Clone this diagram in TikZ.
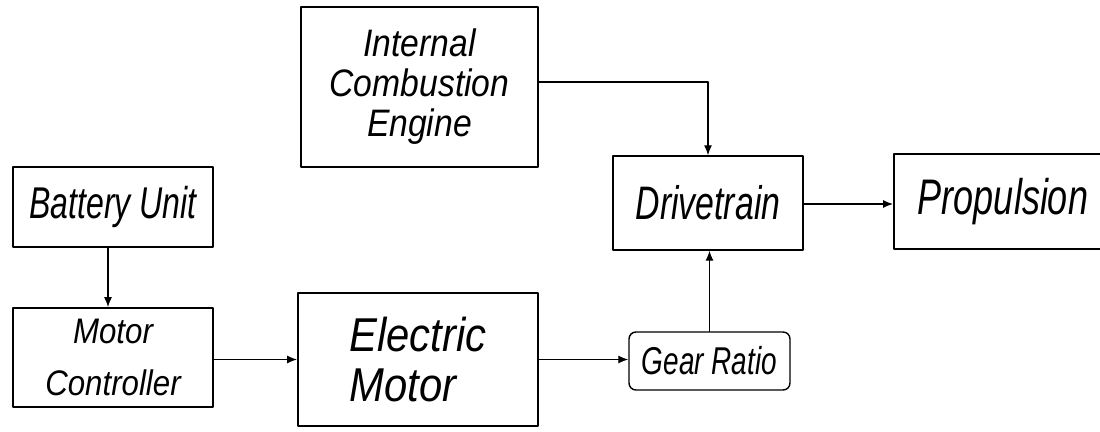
\documentclass[tikz,border=0pt]{standalone}
\usepackage{fontspec}
\setmainfont{Liberation Sans}
\newfontfamily\narrowsans[FakeStretch=0.72]{Liberation Sans}
\newfontfamily\plainsans[FakeStretch=0.88]{Liberation Sans}
\usetikzlibrary{arrows.meta}

\begin{document}
\begin{tikzpicture}[x=1pt,y=1pt,line cap=round,line join=round,
  >={Latex[length=10pt,width=8pt]},
  blk/.style={draw,line width=1.4pt,inner sep=0pt,align=center},
  heavy/.style={blk,line width=1.9pt},
  conn/.style={line width=1.3pt,->}]
  \useasboundingbox (0,0) rectangle (1100,431);
  \clip (0,0) rectangle (1100,431);
  \node[heavy,minimum width=237,minimum height=160,
    font=\plainsans\itshape\fontsize{38.3}{40}\selectfont] (ice) at (419.5,344) {Internal\\Combustion\\Engine};
  \node[blk,line width=1.7pt,minimum width=200,minimum height=80,
    font=\narrowsans\itshape\fontsize{44.5}{46}\selectfont] (bat) at (113,224) {Battery Unit};
  \node[blk,line width=1.7pt,minimum width=200,minimum height=99,
    font=\plainsans\itshape\fontsize{35.5}{52}\selectfont] (mc) at (113,73.5) {Motor\\Controller};
  \node[heavy,minimum width=240,minimum height=133,align=left,
    font=\plainsans\itshape\fontsize{47.5}{50}\selectfont] (em) at (418,71.5) {Electric\\Motor};
  \node[blk,rounded corners=7pt,minimum width=161,minimum height=58,
    font=\narrowsans\itshape\fontsize{38.8}{40}\selectfont] (gear) at (709.5,70) {Gear Ratio};
  \node[blk,minimum width=190,minimum height=94,
    font=\narrowsans\itshape\fontsize{47}{50}\selectfont] (dt) at (708,228) {Drivetrain};
  \node[heavy,minimum width=218,minimum height=95,
    font=\narrowsans\itshape\fontsize{50}{52}\selectfont] (prop) at (1003,229.5) {Propulsion};
  \draw[conn] ([yshift=5pt]ice.east) -| (dt.north);
  \draw[conn] ([xshift=-5pt]bat.south) -- ([xshift=-5pt]mc.north);
  \draw[conn] (mc.east |- em.west) -- (em.west);
  \draw[conn] (em.east) -- (em.east -| gear.west);
  \draw[conn] (gear.north) -- (gear.north |- dt.south);
  \draw[conn] ([yshift=-1pt]dt.east) -- ([yshift=-1pt]dt.east -| prop.west);
\end{tikzpicture}
\end{document}
